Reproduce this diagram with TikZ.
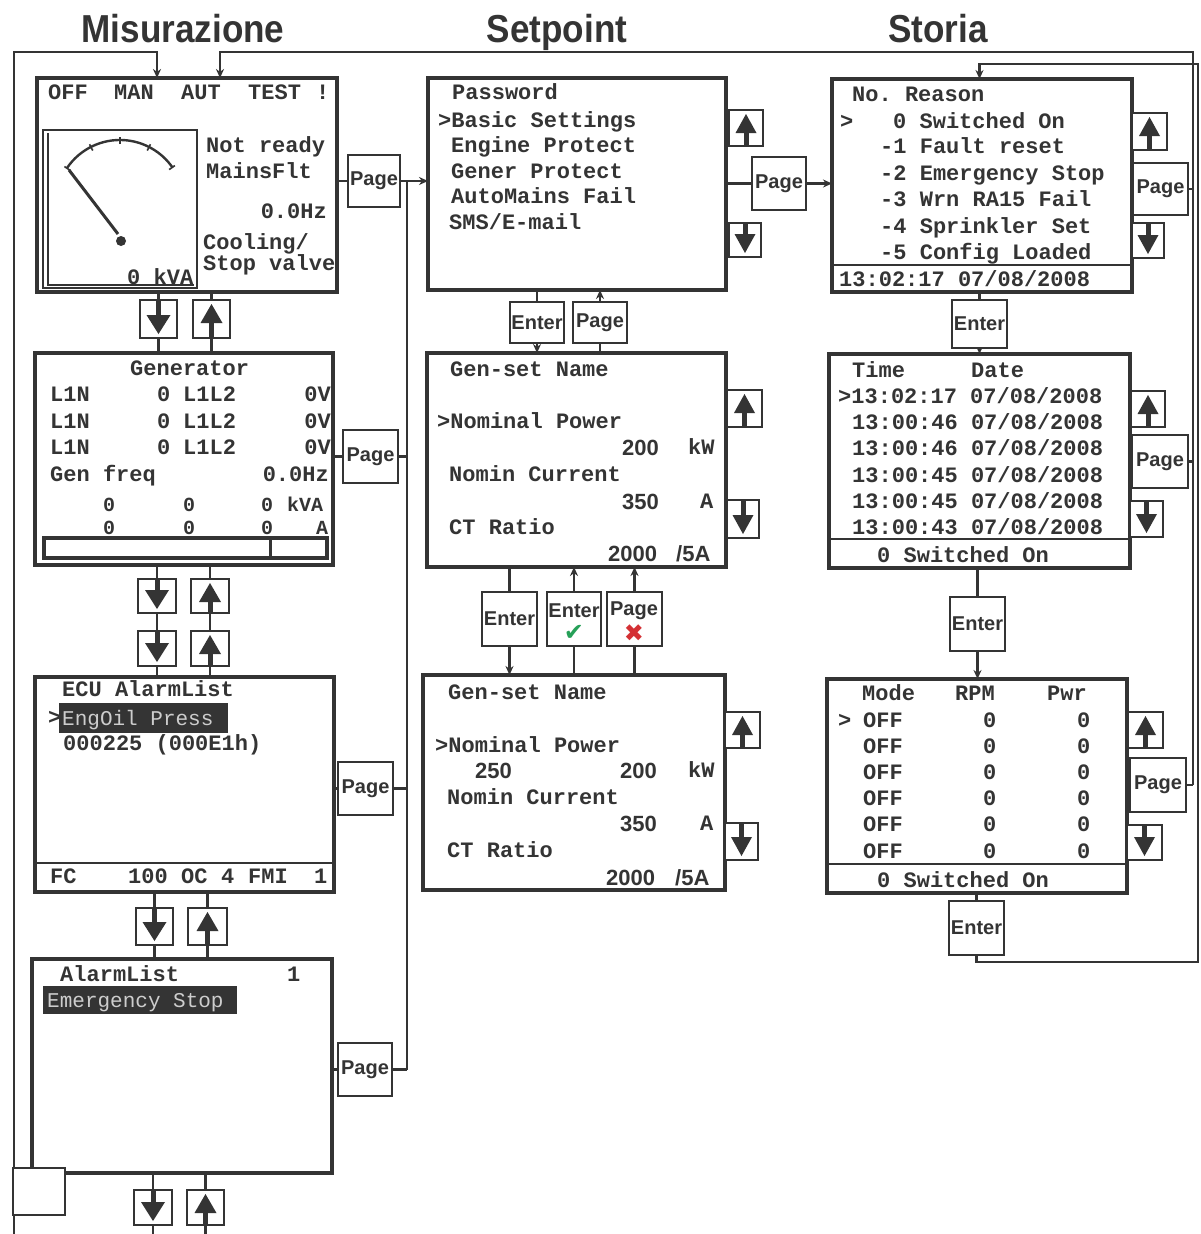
\documentclass[tikz,border=0pt]{standalone}
\usepackage{fontspec}
\usepackage{graphicx}
\setmainfont{Liberation Sans}
\setsansfont{Liberation Sans}
\setmonofont{Liberation Mono}
\newfontfamily\symfont{DejaVu Sans}
\usetikzlibrary{arrows.meta,calc,backgrounds}
\definecolor{ink}{RGB}{52,52,52}
\definecolor{hlt}{RGB}{205,205,205}
\definecolor{okgreen}{RGB}{38,160,88}
\definecolor{nored}{RGB}{212,48,52}
\newcounter{tc}
\newcommand\mt[4][]{\stepcounter{tc}\node[mono,#1] (t\arabic{tc}) at (#2,#3+7) {#4};}
\newcommand\nt[4][]{\stepcounter{tc}\node[num,#1] (t\arabic{tc}) at (#2,#3+8) {#4};}
\newcommand\hlt[3]{\stepcounter{tc}\node[hl] (t\arabic{tc}) at (#1,#2+7) {#3};}
\newcommand\bx[7]{\node[#1,anchor=north west,minimum width={(#5-#3)*1pt},minimum height={(#6-#4)*1pt}] (#2) at (#3,#4) {#7};}
\newcommand\gup[2][10.5]{\fill[ink] ($(#2.north)+(0,4)$) -- ++(#1,19) -- ++(-2*#1,0) -- cycle;
  \draw[ink,line width=5pt] ($(#2.north)+(0,20)$) -- (#2.south);}
\newcommand\gdn[2][10.5]{\fill[ink] ($(#2.south)+(0,-4)$) -- ++(#1,-19) -- ++(-2*#1,0) -- cycle;
  \draw[ink,line width=5pt] ($(#2.south)+(0,-20)$) -- (#2.north);}
\begin{document}
\begin{tikzpicture}[x=1pt,y=-1pt,
 screen/.style={draw=ink,line width=3.5pt,fill=white,inner sep=0pt,outer sep=0pt},
 btn/.style={draw=ink,line width=2.8pt,fill=white,inner sep=0pt,outer sep=0pt,text=ink,font=\sffamily\bfseries\fontsize{20}{20}\selectfont},
 blbl/.style={inner sep=0pt,text=ink,font=\sffamily\bfseries\fontsize{20}{20}\selectfont},
 wire/.style={draw=ink,line width=2.2pt},
 arr/.style={-{Stealth[length=9pt,width=8pt]}},
 mono/.style={inner sep=0pt,anchor=base west,text=ink,font=\ttfamily\bfseries\fontsize{22}{22}\selectfont},
 small/.style={font=\ttfamily\bfseries\fontsize{20}{20}\selectfont},
 num/.style={inner sep=0pt,anchor=base west,text=ink,font=\sffamily\bfseries\fontsize{22}{22}\selectfont},
 hl/.style={inner sep=0pt,anchor=base west,text=hlt,font=\ttfamily\fontsize{21}{21}\selectfont},
 ttl/.style={inner sep=0pt,anchor=base,text=ink,font=\sffamily\bfseries\fontsize{39}{39}\selectfont},
]
\useasboundingbox (0,0) rectangle (1200,1234);
\begin{pgfonlayer}{background}
\fill[white] (0,0) rectangle (1200,1234);
\end{pgfonlayer}

% titles
\node[ttl] (ttl1) at (183,42) {\scalebox{0.9}[1]{Misurazione}};
\node[ttl] (ttl2) at (557,42) {\scalebox{0.9}[1]{Setpoint}};
\node[ttl] (ttl3) at (938,42) {\scalebox{0.9}[1]{Storia}};

% helper coordinates
\coordinate (ytop) at (0,52); \coordinate (ytop2) at (0,64);
\coordinate (ybe) at (0,962); \coordinate (ybot) at (0,1234);
\coordinate (xl) at (14,0); \coordinate (xman) at (157,0); \coordinate (xaut) at (220,0);
\coordinate (xv) at (407,0); \coordinate (xr1) at (1193,0); \coordinate (xr2) at (1198,0);

% screens
\bx{screen}{m1}{37}{78}{337}{292}{}
\bx{screen}{m2}{35}{353}{333}{565}{}
\bx{screen}{m3}{35}{677}{334}{892}{}
\bx{screen}{m4}{32}{959}{332}{1173}{}
\bx{screen}{s1}{428}{78}{726}{290}{}
\bx{screen}{s2}{427}{353}{726}{567}{}
\bx{screen}{s3}{423}{675}{725}{890}{}
\bx{screen}{h1}{832}{79}{1132}{292}{}
\bx{screen}{h2}{829}{354}{1130}{568}{}
\bx{screen}{h3}{827}{679}{1127}{893}{}

% Misurazione buttons
\bx{btn}{md1}{140}{300}{177}{338}{} \bx{btn}{mu1}{193}{300}{230}{338}{}
\bx{btn}{md2}{138}{579}{176}{613}{} \bx{btn}{mu2}{191}{579}{229}{613}{}
\bx{btn}{md3}{138}{631}{176}{666}{} \bx{btn}{mu3}{191}{631}{229}{666}{}
\bx{btn}{md4}{136}{908}{173}{945}{} \bx{btn}{mu4}{188}{908}{227}{945}{}
\bx{btn}{md5}{134}{1190}{172}{1225}{} \bx{btn}{mu5}{187}{1190}{224}{1225}{}
\bx{btn}{mp1}{348}{155}{400}{207}{Page}
\bx{btn}{mp2}{343}{430}{398}{483}{Page}
\bx{btn}{mp3}{338}{762}{393}{815}{Page}
\bx{btn}{mp4}{338}{1043}{392}{1096}{Page}
\bx{btn}{sq}{13}{1168}{65}{1215}{}

% Setpoint buttons
\bx{btn}{spu1}{729}{110}{763}{146}{} \bx{btn}{spd1}{729}{223}{761}{257}{}
\bx{btn}{spg}{752}{157}{806}{210}{Page}
\bx{btn}{se1}{510}{302}{564}{343}{Enter} \bx{btn}{sp1}{573}{302}{627}{343}{Page}
\bx{btn}{spu2}{727}{390}{762}{427}{} \bx{btn}{spd2}{727}{500}{759}{538}{}
\bx{btn}{se2}{482}{592}{537}{646}{Enter}
\bx{btn}{sek}{547}{592}{601}{646}{}
\bx{btn}{spx}{607}{592}{662}{646}{}
\bx{btn}{spu3}{725}{712}{760}{748}{} \bx{btn}{spd3}{725}{823}{758}{860}{}
\node[blbl] (sekt) at (574,611) {Enter};
\node[inner sep=0pt] (sekc) at (574,633) {\symfont\fontsize{24}{24}\selectfont\textcolor{okgreen}{✔}};
\node[blbl] (spxt) at (634,611) {Page};
\node[inner sep=0pt] (spxc) at (634,633) {\symfont\fontsize{24}{24}\selectfont\textcolor{nored}{✖}};

% Storia buttons
\bx{btn}{hu1}{1132}{113}{1167}{150}{} \bx{btn}{hp1}{1133}{163}{1188}{215}{Page} \bx{btn}{hd1}{1132}{223}{1164}{258}{}
\bx{btn}{he1}{952}{300}{1007}{348}{Enter}
\bx{btn}{hu2}{1131}{391}{1165}{427}{} \bx{btn}{hp2}{1132}{435}{1188}{488}{Page} \bx{btn}{hd2}{1130}{501}{1163}{537}{}
\bx{btn}{he2}{950}{597}{1005}{651}{Enter}
\bx{btn}{hu3}{1128}{712}{1163}{748}{} \bx{btn}{hp3}{1130}{758}{1186}{812}{Page} \bx{btn}{hd3}{1127}{825}{1162}{860}{}
\bx{btn}{he3}{949}{901}{1004}{955}{Enter}

% arrow glyphs
\gdn[12]{md1} \gup[11]{mu1}
\gdn[12]{md2} \gup[11]{mu2}
\gdn[12]{md3} \gup[11]{mu3}
\gdn[12]{md4} \gup[11]{mu4}
\gdn[12]{md5} \gup[11]{mu5}
\gup{spu1} \gdn{spd1} \gup{spu2} \gdn{spd2} \gup{spu3} \gdn{spd3}
\gup{hu1} \gdn{hd1} \gup{hu2} \gdn{hd2} \gup{hu3} \gdn{hd3}

% connectors
\begin{pgfonlayer}{background}
\draw[wire,arr] (xl |- ybot) -- (xl |- ytop) -- (xman |- ytop) -- (m1.north -| xman);
\draw[wire,arr] (hp3.east -| xr1) -- (xr1 |- ytop) -- (xaut |- ytop) -- (m1.north -| xaut);
\draw[wire] (hp1.east) -- (hp1.east -| xr1);
\draw[wire] (hp2.east) -- (hp2.east -| xr1);
\draw[wire] (hp3.east) -- (hp3.east -| xr1);
\draw[wire,arr] (he3.south) -- (he3.south |- ybe) -- (xr2 |- ybe) -- (xr2 |- ytop2) -- (he1 |- ytop2) -- (h1.north -| he1);
\draw[wire] (mp1.west -| m1.east) -- (mp1.west);
\draw[wire,arr] (mp1.east) -- (mp1.east -| s1.west);
\draw[wire] (mp1.east -| xv) -- (mp4.east -| xv);
\draw[wire] (mp2.west -| m2.east) -- (mp2.west); \draw[wire] (mp2.east) -- (mp2.east -| xv);
\draw[wire] (mp3.west -| m3.east) -- (mp3.west); \draw[wire] (mp3.east) -- (mp3.east -| xv);
\draw[wire] (mp4.west -| m4.east) -- (mp4.west); \draw[wire] (mp4.east) -- (mp4.east -| xv);
\draw[wire] (m1.south -| md1) -- (m2.north -| md1);
\draw[wire] (m1.south -| mu1) -- (m2.north -| mu1);
\draw[wire] (m2.south -| md2) -- (m3.north -| md2);
\draw[wire] (m2.south -| mu2) -- (m3.north -| mu2);
\draw[wire] (m3.south -| md4) -- (m4.north -| md4);
\draw[wire] (m3.south -| mu4) -- (m4.north -| mu4);
\draw[wire] (m4.south -| md5) -- (md5 |- ybot);
\draw[wire] (m4.south -| mu5) -- (mu5 |- ybot);
\draw[wire] (spg.west -| s1.east) -- (spg.west);
\draw[wire,arr] (spg.east) -- (spg.east -| h1.west);
\draw[wire,arr] (s1.south -| se1) -- (s2.north -| se1);
\draw[wire,arr] (s2.north -| sp1) -- (s1.south -| sp1);
\draw[wire,arr] (s2.south -| se2) -- (s3.north -| se2);
\draw[wire,arr] (s3.north -| sek) -- (s2.south -| sek);
\draw[wire,arr] (s3.north -| spx) -- (s2.south -| spx);
\draw[wire] (hp1.west -| h1.east) -- (hp1.west);
\draw[wire] (hp2.west -| h2.east) -- (hp2.west);
\draw[wire] (hp3.west -| h3.east) -- (hp3.west);
\draw[wire,arr] (h1.south -| he1) -- (h2.north -| he1);
\draw[wire,arr] (h2.south -| he2) -- (h3.north -| he2);
\draw[wire] (h3.south -| he3) -- (he3.north);
\end{pgfonlayer}

% ---- screen contents ----
% m1
\mt{48}{92}{OFF} \mt{114}{92}{MAN} \mt{181}{92}{AUT} \mt{248}{92}{TEST} \mt{316}{92}{!}
\draw[ink,line width=2.5pt] (43,130) rectangle (197,288);
\draw[ink,line width=1.5pt] (48,133) -- (48,285) -- (194,285);
\draw[ink,line width=2.4pt] (67,168) arc[start angle=214.2,end angle=325.3,radius=64];
\foreach \a in {214,243,270,297,325}{\draw[ink,line width=1.6pt] ($(120,204)+(\a:60)$) -- ($(120,204)+(\a:67)$);}
\draw[ink,line width=3pt] (69,170) -- (118,234);
\fill[ink] (121,241) circle[radius=5];
\mt{206}{145}{Not ready}
\mt{206}{171}{MainsFlt}
\mt[anchor=base east]{327}{211}{0.0Hz}
\mt{203}{242}{Cooling/}
\mt{203}{263}{Stop valve}
\mt{127}{277}{0 kVA}
% m2
\mt{130}{368}{Generator}
\foreach \yy in {394,421,447}{\mt{50}{\yy}{L1N} \mt{157}{\yy}{0} \mt{183}{\yy}{L1L2} \mt[anchor=base east]{331}{\yy}{0V}}
\mt{50}{474}{Gen freq} \mt[anchor=base east]{329}{474}{0.0Hz}
\mt[small]{103}{504}{0} \mt[small]{183}{504}{0} \mt[small]{261}{504}{0} \mt[small]{287}{504}{kVA}
\mt[small]{103}{527}{0} \mt[small]{183}{527}{0} \mt[small]{261}{527}{0} \mt[small]{316}{527}{A}
\draw[ink,line width=3.5pt] (44,538) rectangle (327,558);
\draw[ink,line width=3pt] (270,540) -- (270,556);
% m3
\mt{62}{689}{ECU AlarmList}
\mt{48}{717}{>}
\fill[ink] (59,703) rectangle (228,733);
\hlt{62}{718}{EngOil Press}
\mt{63}{743}{000225 (000E1h)}
\draw[ink,line width=2.5pt] (35,863) -- (334,863);
\mt{50}{876}{FC} \mt{128}{876}{100} \mt{181}{876}{OC} \mt{221}{876}{4} \mt{248}{876}{FMI} \mt{314}{876}{1}
% m4
\mt{60}{974}{AlarmList} \mt{287}{974}{1}
\fill[ink] (43,986) rectangle (237,1014);
\hlt{47}{1000}{Emergency Stop}
% s1
\mt{452}{92}{Password}
\mt{438}{120}{>Basic Settings}
\mt{451}{145}{Engine Protect}
\mt{451}{171}{Gener Protect}
\mt{451}{196}{AutoMains Fail}
\mt{449}{222}{SMS/E-mail}
% s2
\mt{450}{369}{Gen-set Name}
\mt{437}{421}{>Nominal Power}
\nt{622}{447}{200} \mt{688}{447}{kW}
\mt{449}{474}{Nomin Current}
\nt{622}{501}{350} \mt{700}{501}{A}
\mt{449}{527}{CT Ratio}
\nt{608}{553}{2000} \nt{676}{553}{/5A}
% s3
\mt{448}{692}{Gen-set Name}
\mt{435}{745}{>Nominal Power}
\nt{475}{770}{250} \nt{620}{770}{200} \mt{688}{770}{kW}
\mt{447}{797}{Nomin Current}
\nt{620}{823}{350} \mt{700}{823}{A}
\mt{447}{850}{CT Ratio}
\nt{606}{877}{2000} \nt{675}{877}{/5A}
% h1
\mt{852}{94}{No. Reason}
\mt{840}{121}{>} \mt{893}{121}{0 Switched On}
\mt{880}{146}{-1 Fault reset}
\mt{880}{173}{-2 Emergency Stop}
\mt{880}{199}{-3 Wrn RA15 Fail}
\mt{880}{226}{-4 Sprinkler Set}
\mt{880}{252}{-5 Config Loaded}
\draw[ink,line width=2.5pt] (832,265) -- (1132,265);
\mt{839}{279}{13:02:17 07/08/2008}
% h2
\mt{852}{370}{Time} \mt{971}{370}{Date}
\mt{838}{396}{>13:02:17 07/08/2008}
\mt{852}{422}{13:00:46 07/08/2008}
\mt{852}{448}{13:00:46 07/08/2008}
\mt{852}{475}{13:00:45 07/08/2008}
\mt{852}{501}{13:00:45 07/08/2008}
\mt{852}{527}{13:00:43 07/08/2008}
\draw[ink,line width=2.5pt] (829,539) -- (1130,539);
\mt{877}{555}{0 Switched On}
% h3
\mt{862}{693}{Mode} \mt{955}{693}{RPM} \mt{1047}{693}{Pwr}
\mt{838}{720}{>}
\foreach \yy in {720,746,772,798,824,851}{\mt{863}{\yy}{OFF} \mt{983}{\yy}{0} \mt{1077}{\yy}{0}}
\draw[ink,line width=2.5pt] (827,864) -- (1127,864);
\mt{877}{880}{0 Switched On}
\end{tikzpicture}
\end{document}
